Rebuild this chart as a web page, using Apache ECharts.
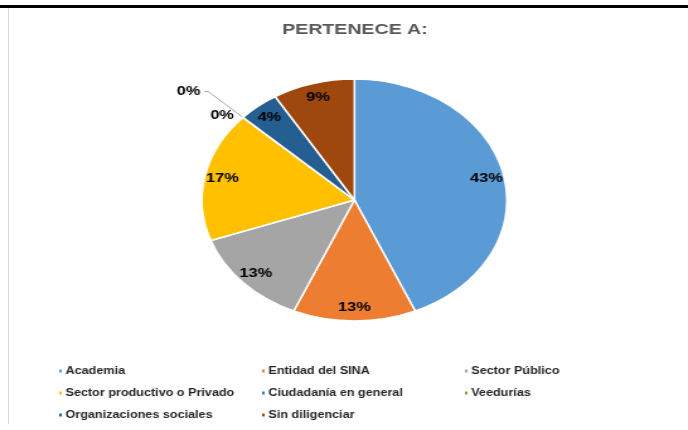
<!DOCTYPE html>
<html>
<head>
<meta charset="utf-8">
<script src="https://cdn.jsdelivr.net/npm/echarts@6/dist/echarts.min.js"></script>
<style>
  html, body { margin: 0; padding: 0; background: #fff; }
  #wrap { position: relative; width: 688px; height: 430px; overflow: hidden; background: #fff; }
  #chart { position: absolute; left: 0; top: 0; width: 546px; height: 430px; transform: scaleX(1.26); transform-origin: 0 0; }
  .top-rule { position: absolute; left: 0; top: 5px; width: 688px; height: 3px; background: #000; }
  .left-rule { position: absolute; left: 8px; top: 8px; width: 1px; height: 416px; background: #d9d9d9; }
</style>
</head>
<body>
<div id="wrap">
  <div id="chart"></div>
  <div class="top-rule"></div>
  <div class="left-rule"></div>
</div>
<script>
// datos
const categories = [
  'Academia',
  'Entidad del SINA',
  'Sector Público',
  'Sector productivo o Privado',
  'Ciudadanía en general',
  'Veedurías',
  'Organizaciones sociales',
  'Sin diligenciar'
];
const counts = [10, 3, 3, 4, 0, 0, 1, 2];
const colors = ['#5B9BD5', '#ED7D31', '#A5A5A5', '#FFC000', '#4472C4', '#70AD47', '#255E91', '#9E480E'];

const FONT = '"Liberation Sans", Arial, sans-serif';
const total = counts.reduce((a, b) => a + b, 0);

function pct(i) {
  return Math.round(counts[i] / total * 100) + '%';
}

const chart = echarts.init(document.getElementById('chart'), null, { renderer: 'canvas' });

// sectores
const sliceData = categories.map((name, i) => ({
  name,
  value: counts[i],
  itemStyle: { color: colors[i] }
}));

// etiquetas (serie transparente, para llevarlas hacia el borde)
let zeroSeen = 0;
const labelData = categories.map((name, i) => {
  const item = { name, value: counts[i] };
  if (counts[i] === 0) {
    item.label = { position: 'outside', distanceToLabelLine: 3 };
    item.labelLine = zeroSeen === 0
      ? { show: false, length: 3, length2: 2 }
      : { show: true, length: 38, length2: 3 };
    zeroSeen++;
  }
  return item;
});

chart.setOption({
  backgroundColor: '#fff',
  animation: false,
  color: colors,
  title: {
    text: 'PERTENECE A:',
    left: 281.7,
    top: 22,
    padding: 0,
    textAlign: 'center',
    textStyle: { fontFamily: FONT, fontSize: 15.5, fontWeight: 'bold', color: '#595959' }
  },
  legend: {
    data: categories,
    left: 45,
    top: 360,
    width: 500,
    padding: 0,
    icon: 'rect',
    itemWidth: 4,
    itemHeight: 5,
    itemGap: 0,
    selectedMode: false,
    textStyle: {
      fontFamily: FONT,
      fontSize: 10,
      fontWeight: 'bold',
      color: '#262626',
      width: 154,
      lineHeight: 22,
      padding: [0, 0, 0, -3]
    }
  },
  series: [
    {
      type: 'pie',
      center: [281.3, 200],
      radius: [0, 121],
      startAngle: 90,
      clockwise: true,
      silent: true,
      avoidLabelOverlap: false,
      label: { show: false },
      labelLine: { show: false },
      itemStyle: { borderColor: '#fff', borderWidth: 1.5 },
      data: sliceData
    },
    {
      type: 'pie',
      center: [281.3, 200],
      radius: [87, 121],
      startAngle: 90,
      clockwise: true,
      silent: true,
      avoidLabelOverlap: false,
      itemStyle: { color: 'rgba(0,0,0,0)', borderWidth: 0 },
      label: {
        show: true,
        position: 'inside',
        formatter: p => pct(p.dataIndex),
        fontFamily: FONT,
        fontSize: 13,
        fontWeight: 'bold',
        color: '#000'
      },
      labelLine: { lineStyle: { color: '#a6a6a6', width: 1 } },
      emphasis: { disabled: true },
      data: labelData
    }
  ]
});
</script>
</body>
</html>
